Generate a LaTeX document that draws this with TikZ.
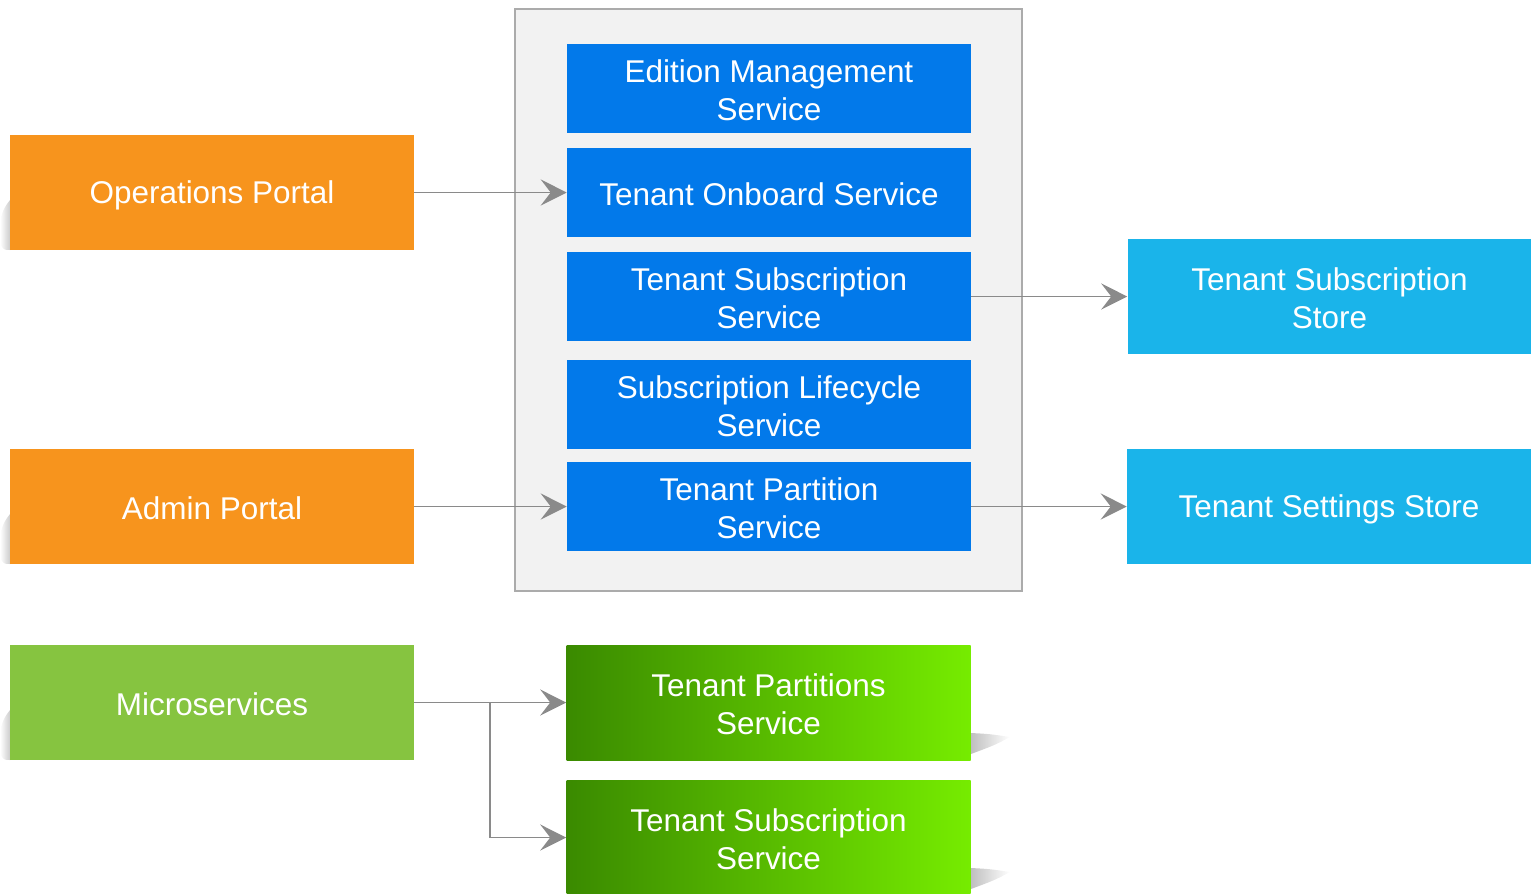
\documentclass[tikz,border=0pt]{standalone}
\usepackage{fontspec}
\setmainfont{Liberation Sans}
\usetikzlibrary{arrows.meta}
\definecolor{cblue}{HTML}{0279EA}
\definecolor{corange}{HTML}{F7941D}
\definecolor{cgreen}{HTML}{86C440}
\definecolor{cgdark}{HTML}{3A8A00}
\definecolor{cglight}{HTML}{76EC00}
\definecolor{csky}{HTML}{1AB4EA}
\definecolor{cline}{HTML}{8A8A8A}
\definecolor{cframe}{HTML}{ABABAB}
\definecolor{cbg}{HTML}{F2F2F2}
\newcommand{\mystrut}{\rule[-1.85pt]{0pt}{23.6pt}}
\tikzset{
  box/.style={inner sep=0pt, minimum width=303pt, text=white, align=center,
    font=\fontsize{23.6}{28.5}\selectfont},
  svc/.style={box, fill=cblue, minimum height=66.75pt},
  portal/.style={box, fill=corange, minimum height=86.25pt},
  micro/.style={box, fill=cgreen, minimum height=86.25pt},
  gsvc/.style={box, left color=cgdark, right color=cglight, minimum height=86.25pt},
  store/.style={box, fill=csky, minimum height=86.25pt},
  conn/.style={draw=cline, line width=1.1pt,
    -{Stealth[length=19.5pt,width=19.5pt,inset=7.5pt]}},
}
\begin{document}
\begin{tikzpicture}[x=0.75pt,y=-0.75pt]
\useasboundingbox (0,0) rectangle (1531,893);
\clip (0,0) rectangle (1531,893);
% shadows
\foreach \yy in {200,514,710}{
  \shade[left color=white, right color=gray!40] (0,\yy+20) .. controls (4,\yy+8) .. (10,\yy) -- (10,\yy+50) .. controls (4,\yy+50) .. (0,\yy+44) -- cycle;
}
\foreach \yy in {733,868}{
  \shade[left color=gray!50, right color=white] (971,\yy) .. controls (990,\yy+1) .. (1010,\yy+4) .. controls (995,\yy+12) .. (971,\yy+21) -- cycle;
}
% container
\draw[cframe, fill=cbg, line width=1.5pt] (515,9) rectangle (1022,591);
% service boxes
\node[svc] (ems) at (769,88.5) {\mystrut Edition Management\\\mystrut Service};
\node[svc] (tos) at (769,192.5) {\mystrut Tenant Onboard Service};
\node[svc] (tss) at (769,296.5) {\mystrut Tenant Subscription\\\mystrut Service};
\node[svc] (sls) at (769,404.5) {\mystrut Subscription Lifecycle\\\mystrut Service};
\node[svc] (tps) at (769,506.5) {\mystrut Tenant Partition\\\mystrut Service};
% portals
\node[portal] (ops) at (212,192.5) {\mystrut Operations Portal};
\node[portal] (adm) at (212,506.5) {\mystrut Admin Portal};
\node[micro] (mic) at (212,702.5) {\mystrut Microservices};
% green services
\node[gsvc] (gps) at (768.5,702.5) {\mystrut Tenant Partitions\\\mystrut Service};
\node[gsvc] (gss) at (768.5,837.5) {\mystrut Tenant Subscription\\\mystrut Service};
% stores
\node[store] (sst) at (1329.5,296.5) {\mystrut Tenant Subscription\\\mystrut Store};
\node[store] (set) at (1329,506.5) {\mystrut Tenant Settings Store};
% connectors
\draw[conn] (ops) -- (tos);
\draw[conn] (adm) -- (tps);
\draw[conn] (tss) -- (sst);
\draw[conn] (tps) -- (set);
\draw[conn] (mic) -- (gps);
\coordinate (br) at (490,702.5);
\draw[conn] (br) |- (gss);
\end{tikzpicture}
\end{document}
